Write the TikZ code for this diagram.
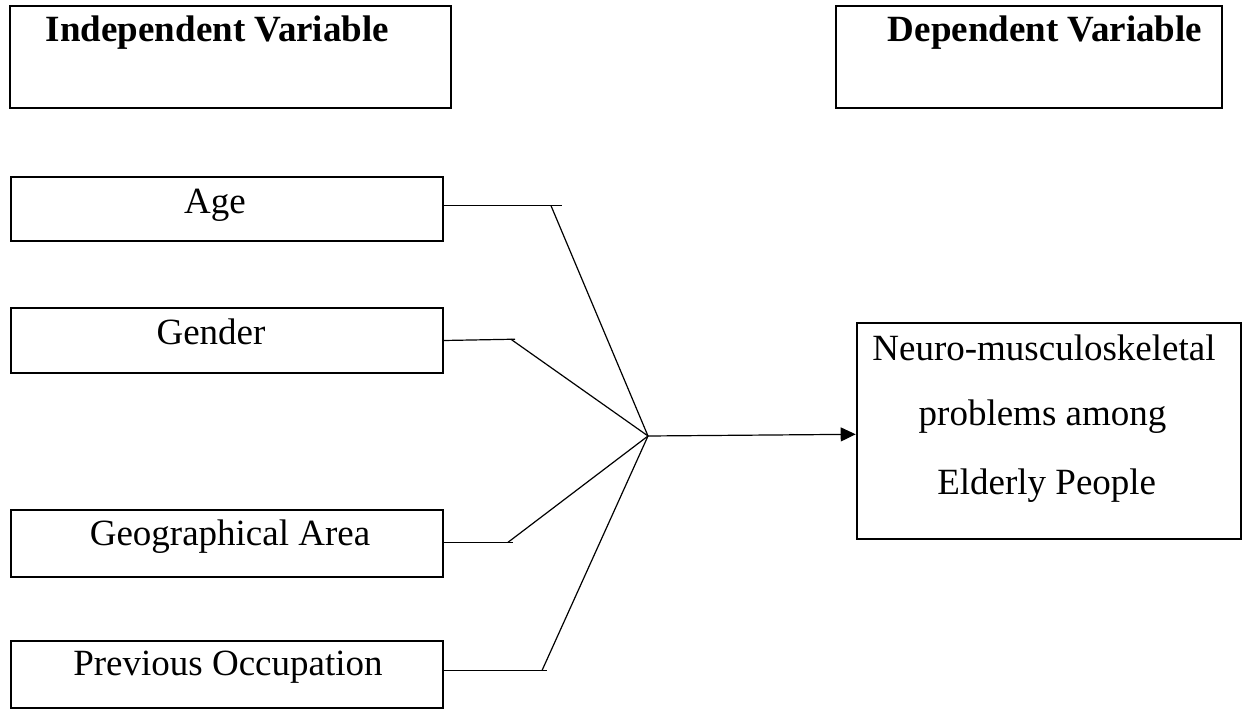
\documentclass[tikz,border=0pt]{standalone}
\usepackage{fontspec}
\setmainfont{Liberation Serif}
\usetikzlibrary{arrows.meta}
\begin{document}
\begin{tikzpicture}[x=1pt,y=-1pt,
  box/.style={draw=black,line width=2pt,rectangle,inner sep=0pt},
  lbl/.style={anchor=base,inner sep=0pt,font=\fontsize{37}{44}\selectfont},
  hdr/.style={anchor=base,inner sep=0pt,font=\fontsize{37}{44}\selectfont\bfseries},
  conn/.style={draw=black,line width=1.2pt}]
\useasboundingbox (0,0) rectangle (1250,709);
% boxes
\node[box,minimum width=441,minimum height=102] (indep) at (230.7,56.8) {};
\node[box,minimum width=386,minimum height=102] (dep) at (1028.8,57) {};
\node[box,minimum width=432,minimum height=64] (age) at (226.7,208.7) {};
\node[box,minimum width=432,minimum height=65] (gender) at (226.7,340.5) {};
\node[box,minimum width=432,minimum height=66.7] (geo) at (226.7,543.3) {};
\node[box,minimum width=432,minimum height=67] (prev) at (226.7,674) {};
\node[box,minimum width=384,minimum height=216] (out) at (1048.7,431.3) {};
% texts
\node[hdr] (indept) at (217.5,41.7) {Independent Variable};
\node[hdr] (dept) at (1045,41.7) {Dependent Variable};
\node[lbl] (aget) at (215,213.3) {Age};
\node[lbl] (gendert) at (211,344) {Gender};
\node[lbl] (geot) at (230,545.7) {Geographical Area};
\node[lbl] (prevt) at (228,675) {Previous Occupation};
\node[lbl] (out1) at (1044,360) {Neuro-musculoskeletal};
\node[lbl] (out2) at (1042.5,425) {problems among};
\node[lbl] (out3) at (1046.7,494) {Elderly People};
% connectors
\coordinate (j) at (648,436);
\coordinate (a1) at (562,205.7);
\coordinate (a2) at (551,205.7);
\coordinate (g1) at (515,339.2);
\coordinate (g2) at (511,339.3);
\coordinate (r1) at (513,542.3);
\coordinate (r2) at (508,542.3);
\coordinate (p1) at (547,670.5);
\coordinate (p2) at (542,670.5);
\draw[conn] (age.east |- a1) -- (a1);
\draw[conn] (a2) -- (j);
\draw[conn] (gender.east |- 0,340.5) -- (g1);
\draw[conn] (g2) -- (j);
\draw[conn] (geo.east |- r1) -- (r1);
\draw[conn] (r2) -- (j);
\draw[conn] (prev.east |- p1) -- (p1);
\draw[conn] (p2) -- (j);
\draw[conn,-{Triangle[length=15pt,width=14pt]}] (j) -- (out.west |- 0,434.3);
\end{tikzpicture}
\end{document}
